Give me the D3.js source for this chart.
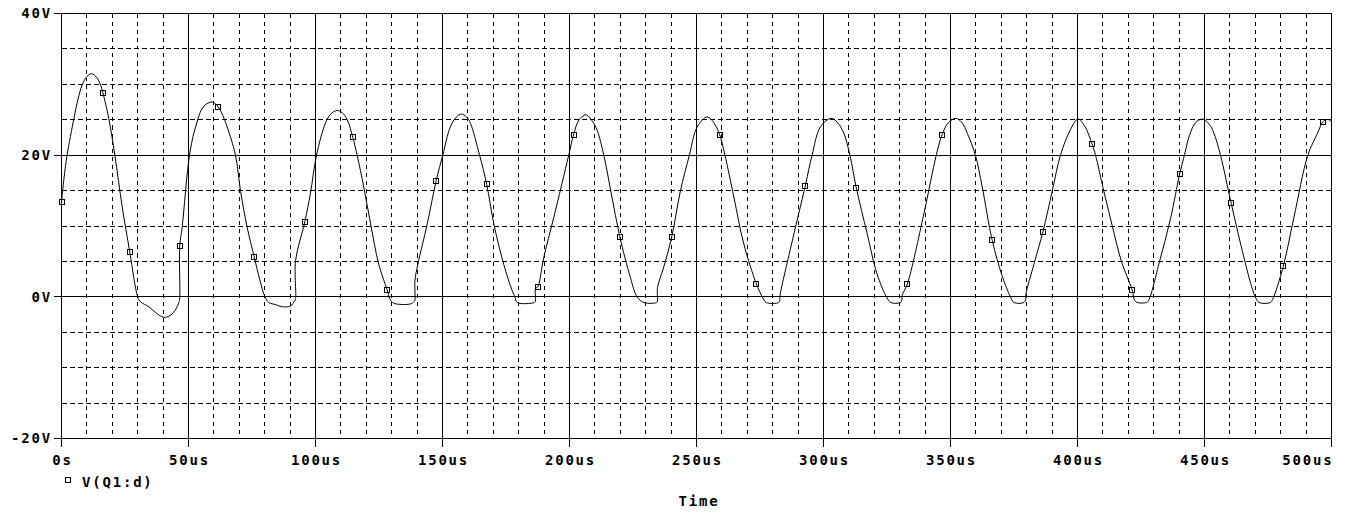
<!DOCTYPE html>
<html>
<head>
<meta charset="utf-8">
<script src="https://cdn.jsdelivr.net/npm/d3@7"></script>
<style>
body { margin: 0; background: #fff; }
svg text { font-family: 'DejaVu Sans Mono', monospace; font-weight: bold; font-size: 14px; letter-spacing: 1.8px; fill: #000; }
</style>
</head>
<body>
<div id="plot"></div>
<script>
// V(Q1:d), time in us, value in volts
let trace_t = [0, 1.0, 2.2, 4.9, 6.5, 8.1, 10.0, 11.8, 13.8, 15.4, 16.3, 18.6, 21.0, 23.9, 26.9, 30.0, 31.1, 34.4, 37.0, 40.3, 42.9, 45.1, 46.2, 46.5, 46.55, 47.5,
    50.4, 52.8, 56.0, 59.5, 61.7, 63.5, 65.2, 68.5, 70.5, 73.1, 75.9, 78.0, 80.1, 81.6, 84.3, 86.9, 90.2, 91.7, 92.1, 92.15, 95.8, 98.0,
    100.4, 103.9, 106.0, 108.4, 110.5, 112.5, 114.7, 116.4, 119.0, 121.7, 124.9, 128.2, 129.3, 130.8, 137.4, 138.7, 139.1, 139.15, 140.3, 144.0, 147.5,
    150.1, 153.1, 155.5, 157.4, 159.5, 161.0, 164.6, 167.4, 170.2, 174.1, 177.4, 178.5, 179.4, 186.2, 186.6, 186.65, 187.5, 189.9, 193.8,
    199.7, 201.6, 203.8, 206.6, 209.0, 210.9, 213.5, 216.5, 219.8, 224.0, 226.6, 229.3, 234.3, 234.6, 234.65, 237.1, 240.2, 243.7,
    247.2, 250.3, 254.2, 256.8, 259.1, 261.2, 264.7, 268.6, 273.6, 275.9, 277.5, 282.4, 282.8, 282.85, 287.0, 292.9,
    295.5, 298.8, 303.0, 305.5, 308.0, 310.4, 312.9, 317.2, 321.1, 324.8, 326.5, 330.3, 330.9, 330.95, 333.0, 339.5,
    344.4, 346.7, 349.2, 352.1, 354.5, 356.6, 359.8, 362.5, 366.4, 370.3, 373.6, 375.0, 378.9, 379.6, 379.65, 383.0, 386.4, 390.1,
    393.3, 397.2, 400.2, 403.0, 405.7, 407.1, 410.3, 413.7, 417.3, 421.5, 422.5, 423.5, 427.1, 428.0, 432.3, 436.6, 440.2,
    442.1, 444.1, 446.5, 449.2, 452.0, 453.7, 456.3, 460.5, 465.5, 468.5, 470.0, 471.5, 476.0, 476.8, 481.0, 485.2,
    490.7, 494.5, 496.6, 497.9, 499.0, 500]
let trace_v = [13.4, 16.8, 20, 25.2, 27.9, 29.9, 31.1, 31.5, 31.0, 29.9, 28.8, 25.2, 20, 12.7, 6.3, 0, -0.7, -1.4, -2.2, -2.9, -2.6, -1.7, -0.8, -0.4, 7.2, 9.8,
    20, 24, 26.9, 27.5, 26.8, 25.6, 24, 20, 14.9, 9.8, 5.6, 2.5, 0, -0.8, -1.1, -1.4, -1.3, -0.6, -0.4, 5.1, 10.6, 14.6,
    20, 24.5, 25.8, 26.3, 26.0, 25.0, 22.5, 20, 15.5, 10.3, 4.6, 1.0, -0.3, -0.9, -1.0, -0.7, -0.5, 2.3, 4.6, 10.3, 16.4,
    20, 24.0, 25.4, 25.8, 25.4, 24.5, 20, 15.9, 10.3, 4.6, 0.9, 0, -0.8, -0.8, -0.6, 1.2, 1.4, 5.6, 11.2,
    20, 22.9, 25.0, 25.7, 24.8, 23.5, 20, 14.5, 8.5, 2.7, 0, -0.8, -0.8, -0.6, 1.3, 4.2, 8.4, 15,
    20, 24, 25.4, 24.6, 22.9, 20, 14.1, 7.5, 1.8, 0, -0.8, -0.8, -0.5, 0.1, 6.8, 15.8,
    20, 24, 25.2, 24.6, 23.1, 20, 15.4, 8.9, 3.2, 0, -0.8, -0.8, -0.4, 0.2, 1.8, 11.7,
    20, 22.9, 24.6, 25.2, 24.6, 23.1, 20, 15.5, 8.0, 3.0, 0, -0.8, -0.8, -0.4, 0.3, 4.8, 9.2, 15,
    20, 23.6, 25.1, 24.0, 21.6, 20, 15, 10, 5, 1.0, -0.5, -0.8, -0.8, -0.5, 5, 11, 17.3,
    20, 22.8, 24.6, 25.1, 24.3, 23.1, 20, 13.2, 5.6, 1.5, 0, -0.8, -0.8, -0.4, 4.3, 11.2,
    20, 23.1, 24.7, 25.0, 25.0, 24.7]

let marker_t = [0, 16.3, 26.9, 46.55, 61.7, 75.9, 95.8, 114.7, 128.2, 147.5, 167.4, 187.5, 201.6, 219.8, 240.2,
    259.1, 273.6, 292.9, 312.9, 333.0, 346.7, 366.4, 386.4, 405.7, 421.5, 440.2, 460.5, 481.0, 496.6]
let marker_v = [13.4, 28.8, 6.3, 7.2, 26.8, 5.6, 10.6, 22.5, 1.0, 16.4, 15.9, 1.4, 22.9, 8.5, 8.4,
    22.9, 1.8, 15.7, 15.4, 1.8, 22.9, 8.0, 9.2, 21.6, 1.0, 17.3, 13.2, 4.3, 24.7]

let x_ticks = [0, 50, 100, 150, 200, 250, 300, 350, 400, 450, 500]
let x_tick_labels = ['0s', '50us', '100us', '150us', '200us', '250us', '300us', '350us', '400us', '450us', '500us']
let y_ticks = [40, 20, 0, -20]
let y_tick_labels = ['40V', '20V', '0V', '-20V']
let x_minor_step = 10
let y_minor_step = 5
let trace_name = 'V(Q1:d)'
let x_title = 'Time'

let width = 1346
let height = 512
let svg = d3.select('#plot').append('svg').attr('width', width).attr('height', height)
svg.append('rect').attr('width', width).attr('height', height).style('fill', '#fff')

let x = d3.scaleLinear().domain([0, 500]).range([61.5, 1331.5])
let y = d3.scaleLinear().domain([-20, 40]).range([438.5, 13.5])

let grid = svg.append('g').attr('shape-rendering', 'crispEdges').style('stroke', '#000').style('stroke-width', 1)

// dashed minor grid
let x_minor = d3.range(0, 501, x_minor_step).filter(d => !x_ticks.includes(d))
let y_minor = d3.range(-20, 41, y_minor_step).filter(d => !y_ticks.includes(d))
grid.selectAll('.vminor').data(x_minor).enter().append('line')
    .attr('x1', d => x(d)).attr('x2', d => x(d)).attr('y1', y(40)).attr('y2', y(-20))
    .attr('stroke-dasharray', '4,4')
grid.selectAll('.hminor').data(y_minor).enter().append('line')
    .attr('x1', x(0)).attr('x2', x(500)).attr('y1', d => y(d)).attr('y2', d => y(d))
    .attr('stroke-dasharray', '5,3')

// solid major grid + frame
grid.selectAll('.vmajor').data(x_ticks).enter().append('line')
    .attr('x1', d => x(d)).attr('x2', d => x(d)).attr('y1', y(40)).attr('y2', y(-20))
grid.selectAll('.hmajor').data(y_ticks).enter().append('line')
    .attr('x1', x(0)).attr('x2', x(500)).attr('y1', d => y(d)).attr('y2', d => y(d))

// ticks
grid.selectAll('.ytick').data(y_ticks).enter().append('line')
    .attr('x1', x(0) - 8).attr('x2', x(0)).attr('y1', d => y(d)).attr('y2', d => y(d))
grid.selectAll('.xtick').data(x_ticks).enter().append('line')
    .attr('x1', d => x(d)).attr('x2', d => x(d)).attr('y1', y(-20)).attr('y2', y(-20) + 8)

svg.selectAll('.ylabel').data(y_ticks).enter().append('text')
    .attr('x', 52).attr('y', d => y(d)).attr('dy', '0.35em').attr('text-anchor', 'end')
    .text((d, i) => y_tick_labels[i])
svg.selectAll('.xlabel').data(x_ticks).enter().append('text')
    .attr('x', d => d === 500 ? x(d) + 2 : x(d) + 1).attr('y', 465)
    .attr('text-anchor', d => d === 500 ? 'end' : 'middle')
    .text((d, i) => x_tick_labels[i])

let points = trace_t.map((t, i) => [t, trace_v[i]])
let line = d3.line().x(d => x(d[0])).y(d => y(d[1])).curve(d3.curveCatmullRom.alpha(0.5))
svg.append('path').datum(points).attr('d', line)
    .style('fill', 'none').style('stroke', '#000').style('stroke-width', 1)

let markers = marker_t.map((t, i) => [t, marker_v[i]])
svg.selectAll('.marker').data(markers).enter().append('rect')
    .attr('x', d => Math.round(x(d[0])) - 3 + 0.5).attr('y', d => Math.round(y(d[1])) - 3 + 0.5)
    .attr('width', 5).attr('height', 5)
    .style('fill', 'none').style('stroke', '#000').style('stroke-width', 1)

// legend and axis title
svg.append('rect').attr('x', 65.5).attr('y', 477.5).attr('width', 5).attr('height', 5)
    .style('fill', 'none').style('stroke', '#000')
svg.append('text').attr('x', 82).attr('y', 487).text(trace_name)
svg.append('text').attr('x', 699).attr('y', 506).attr('text-anchor', 'middle').text(x_title)
</script>
</body>
</html>
